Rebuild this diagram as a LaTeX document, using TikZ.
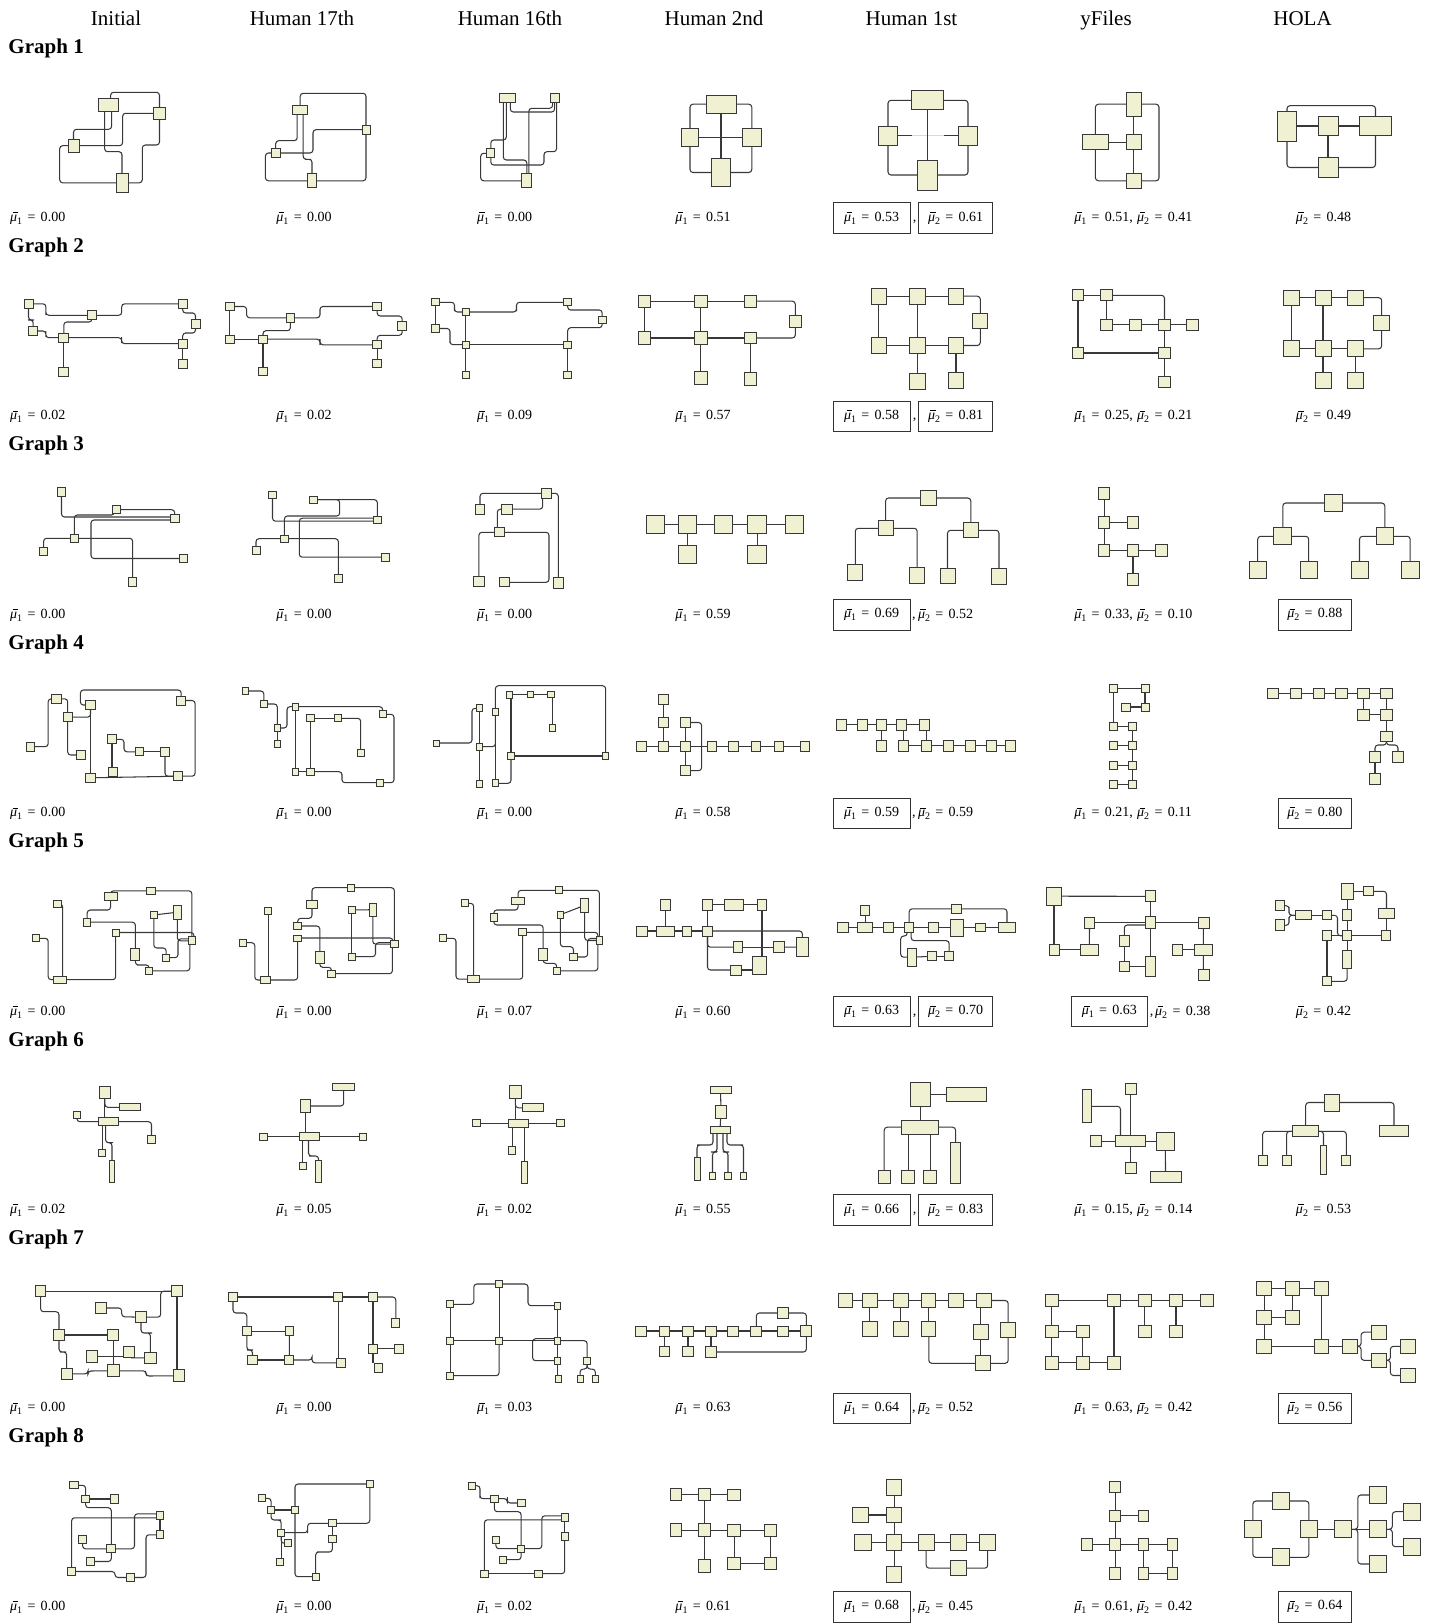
\documentclass[tikz,border=0pt]{standalone}
\usepackage{fontspec}
\setmainfont{Liberation Serif}
\definecolor{nfill}{RGB}{240,240,210}
\pgfdeclarelayer{back}
\pgfdeclarelayer{bg}
\pgfsetlayers{back,bg,main}
\tikzset{
 nd/.style={draw=black!78,fill=nfill,line width=0.95pt,inner sep=0pt,outer sep=0pt,rectangle},
 e/.style={draw=black!78,line width=1.05pt,rounded corners=3pt},
 hd/.style={font=\fontsize{21}{25}\selectfont,anchor=base,inner sep=0pt},
 gl/.style={font=\fontsize{21}{25}\selectfont\bfseries,anchor=base west,inner sep=0pt},
 sc/.style={font=\fontsize{14}{17}\selectfont,inner sep=0pt},
 bx/.style={draw=black!80,line width=0.9pt,minimum height=30.5pt,inner sep=0pt,font=\fontsize{14}{17}\selectfont},
}
\newcommand\gn[5]{\node[nd,minimum width=#4pt,minimum height=#5pt] (#1) at (#2,#3) {};}
\newcommand\subn[1]{\raisebox{-0.45ex}{\fontsize{10}{10}\selectfont #1}}
\newcommand\mub{\rlap{\hspace{0.17em}\rule[0.6em]{0.4em}{0.05em}}\textit{μ}}
\newcommand\eqs{\hspace{0.38em}=\hspace{0.38em}}
\newcommand\mA[1]{\mub\subn{1}\eqs#1}
\newcommand\mB[1]{\mub\subn{2}\eqs#1}
\begin{document}
\begin{tikzpicture}[x=1pt,y=-1pt]
\begin{pgfonlayer}{back}
\fill[white] (0,0) rectangle (1435,1624);
\end{pgfonlayer}
\useasboundingbox (0,0) rectangle (1435,1624);
% headers
\node[hd] (h1) at (116,25.7) {Initial};
\node[hd] (h2) at (302,25.7) {Human 17th};
\node[hd] (h3) at (510,25.7) {Human 16th};
\node[hd] (h4) at (714,25.7) {Human 2nd};
\node[hd] (h5) at (911.5,25.7) {Human 1st};
\node[hd] (h6) at (1106,25.7) {yFiles};
\node[hd] (h7) at (1302.5,25.7) {HOLA};
\node[gl] (gl1) at (8.3,54) {Graph 1};
\node[gl] (gl2) at (8.3,252.4) {Graph 2};
\node[gl] (gl3) at (8.3,450.8) {Graph 3};
\node[gl] (gl4) at (8.3,649.2) {Graph 4};
\node[gl] (gl5) at (8.3,847.6) {Graph 5};
\node[gl] (gl6) at (8.3,1046) {Graph 6};
\node[gl] (gl7) at (8.3,1244.4) {Graph 7};
\node[gl] (gl8) at (8.3,1442.8) {Graph 8};

% ================= ROW 1
\gn{a1a}{108.6}{105.3}{20}{13}
\gn{a1b}{159.5}{113.3}{11.5}{12}
\gn{a1c}{73.5}{145.7}{11}{12.7}
\gn{a1d}{122}{182.8}{12}{19}
\begin{pgfonlayer}{bg}
\draw[e] ([xshift=2]a1a.north) |- (135,92.3) -| (a1b);
\draw[e] ([xshift=-4]a1a.south) |- (115,151.7) -| (a1d);
\draw[e] ([xshift=3]a1a.south) |- (90,129.3) -| (a1c);
\draw[e] (a1b) -| (122.6,130) |- (a1c);
\draw[e] (a1b) |- (142.3,145) |- (a1d);
\draw[e] (a1c) -| (59.7,160) |- (a1d);
\end{pgfonlayer}

\gn{b1a}{300.2}{109.5}{15.5}{9}
\gn{b1b}{366}{129.7}{8}{9}
\gn{b1c}{275.7}{153}{9}{9.4}
\gn{b1d}{312}{180.8}{9}{13.7}
\begin{pgfonlayer}{bg}
\draw[e] (b1a) |- (340,93.3) -| (b1b);
\draw[e] ([xshift=-3]b1a.south) |- (285,140.7) -| (b1c);
\draw[e] ([xshift=3]b1a.south) |- (308,159.3) -| (b1d);
\draw[e] (b1b) -| (313,140) |- (b1c);
\draw[e] (b1b) |- (b1d);
\draw[e] (b1c) -| (265.4,170) |- (b1d);
\end{pgfonlayer}

\gn{c1a}{507.3}{97.8}{15.5}{9}
\gn{c1b}{554.6}{97.8}{9}{9}
\gn{c1c}{490.8}{153.3}{8.3}{8.7}
\gn{c1d}{526.8}{180.8}{9.7}{13.7}
\begin{pgfonlayer}{bg}
\draw[e] ([xshift=3]c1a.south) |- (530,112) -| (c1b);
\draw[e] ([xshift=-1]c1a.south) |- (500,140) -| (c1c);
\draw[e] ([xshift=-4]c1a.south) |- (515,160) -| (c1d);
\draw[e] ([xshift=2]c1b.south) |- (544,151.7) |- (500,165) -| (c1c);
\draw[e] ([xshift=-2]c1b.south) |- (535,108.3) -| ([xshift=2]c1d.north);
\draw[e] (c1c) -| (480.7,170) |- (c1d);
\end{pgfonlayer}

\gn{d1a}{721}{104.2}{30}{18.3}
\gn{d1b}{690}{137.5}{17.5}{18.4}
\gn{d1c}{751.8}{137.5}{18.5}{17.7}
\gn{d1d}{721}{172.5}{18.5}{28.4}
\begin{pgfonlayer}{bg}
\draw[e] (d1a) -| (d1b);
\draw[e] (d1a) -| (d1c);
\draw[e] (d1b) |- (d1d);
\draw[e] (d1c) |- (d1d);
\draw[e] (d1b) -- (d1c);
\draw[e] (d1a) -- (d1d);
\end{pgfonlayer}

\gn{e1a}{927.6}{100.3}{32}{19.3}
\gn{e1b}{888}{135.7}{19}{19.3}
\gn{e1c}{968}{135.7}{19.7}{19.3}
\gn{e1d}{927.8}{175}{19.7}{30}
\begin{pgfonlayer}{bg}
\draw[e] (e1a) -| (e1b);
\draw[e] (e1a) -| (e1c);
\draw[e] (e1b) |- (e1d);
\draw[e] (e1c) |- (e1d);
\draw[e] (e1b) -- (e1c);
\draw[black!15,line width=1.1pt] (e1b.east -| e1a.west) -- (e1c.west -| e1a.east);
\draw[e] (e1a.south -| e1d.north) -- (e1d);
\end{pgfonlayer}

\gn{f1a}{1133.8}{104.2}{15.5}{23.7}
\gn{f1b}{1095.4}{142.3}{26}{15.3}
\gn{f1c}{1133.8}{142.3}{15.5}{15.3}
\gn{f1d}{1133.8}{180.8}{15.5}{15}
\begin{pgfonlayer}{bg}
\draw[e] (f1a) -- (f1c);
\draw[e] (f1c) -- (f1d);
\draw[e] (f1b) -- (f1c);
\draw[e] (f1a) -| (f1b);
\draw[e] (f1b) |- (f1d);
\draw[e] (f1a) -| (1159,150) |- (f1d);
\end{pgfonlayer}

\gn{g1a}{1287}{126}{19.3}{30}
\gn{g1b}{1328}{126}{20}{19.3}
\gn{g1c}{1375.5}{126}{31.7}{19.3}
\gn{g1d}{1328}{167.5}{20}{19.6}
\begin{pgfonlayer}{bg}
\draw[e] (g1a) -- (g1b);
\draw[e] (g1b) -- (g1c);
\draw[e] (g1b) -- (g1d);
\draw[e] (g1a) |- (1330,105.7) -| (g1c);
\draw[e] (g1a) |- (g1d);
\draw[e] (g1d) -| (g1c);
\end{pgfonlayer}

% ================= ROW 2
\gn{a2a}{28.5}{303.8}{9}{9}
\gn{a2b}{33.2}{331}{9}{9}
\gn{a2c}{92}{315.3}{9.5}{8.7}
\gn{a2d}{63.8}{337.7}{10}{8.7}
\gn{a2e}{182.7}{303.8}{9}{9}
\gn{a2f}{195.5}{323.8}{9}{9}
\gn{a2g}{182.7}{343.7}{9}{8.7}
\gn{a2h}{182.7}{363.7}{9}{8.7}
\gn{a2i}{63.8}{371.8}{10}{9}
\begin{pgfonlayer}{bg}
\draw[e] (a2a) -| (45.9,312) |- (a2c);
\draw[e] (a2a) |- (31,320) -| (a2b);
\draw[e] (a2b) -| (45.9,334) |- (a2d);
\draw[e] (a2c) -| (121.7,310) |- (a2e);
\draw[e] (a2c) |- (75,322) -| (a2d);
\draw[e] (a2e) |- (190,313) -| (a2f);
\draw[e] (a2d) -| (121.7,340) |- (a2g);
\draw[e] (a2f) |- (188,333) -| (a2g);
\draw[e] (a2g) -- (a2h);
\draw[e] (a2d) -- (a2i);
\end{pgfonlayer}

\gn{b2a}{229.8}{306.5}{8.8}{8.4}
\gn{b2b}{229.8}{339.2}{8.8}{8.4}
\gn{b2c}{290.4}{317.8}{8.8}{8.7}
\gn{b2d}{263}{339.2}{9.2}{8.4}
\gn{b2e}{377.2}{306.5}{8.7}{8.4}
\gn{b2f}{402.2}{325.8}{9.2}{8.4}
\gn{b2g}{377.2}{344.8}{8.7}{8}
\gn{b2h}{377.2}{363.3}{8.7}{8}
\gn{b2i}{263}{371.5}{9.2}{8.4}
\begin{pgfonlayer}{bg}
\draw[e] (b2a) -- (b2b);
\draw[e] (b2a) -| (246.6,312) |- (b2c);
\draw[e] (b2c) -| (320,312) |- (b2e);
\draw[e] (b2c) |- (270,330.7) -| (b2d);
\draw[e] (b2b) -- (b2d);
\draw[e] (b2d) -| (320,342) |- (b2g);
\draw[e] (b2e) |- (390,316) -| (b2f);
\draw[e] (b2f) |- (385,335.3) -| (b2g);
\draw[e] (b2g) -- (b2h);
\draw[e] (b2d) -- (b2i);
\end{pgfonlayer}

\gn{c2a}{435.5}{302.3}{7.8}{7.3}
\gn{c2b}{435.5}{328.5}{7.8}{7.3}
\gn{c2c}{465.9}{312}{7.7}{7.3}
\gn{c2d}{465.9}{344.7}{7.7}{7.3}
\gn{c2e}{567.7}{302.3}{7.8}{7.3}
\gn{c2f}{602.2}{319.7}{7.7}{7.3}
\gn{c2g}{567.7}{344.7}{7.8}{7.3}
\gn{c2h}{567.7}{374.7}{7.8}{7.3}
\gn{c2i}{465.9}{374.7}{7.7}{7.3}
\begin{pgfonlayer}{bg}
\draw[e] (c2a) -- (c2b);
\draw[e] (c2a) -| (454.5,308) |- (c2c);
\draw[e] (c2b) -| (450,340) |- (c2d);
\draw[e] (c2c) -- (c2d);
\draw[e] (c2c) -| (516.5,308) |- (c2e);
\draw[e] (c2d) -- (c2g);
\draw[e] (c2e) |- (590,310) -| (c2f);
\draw[e] (c2f) |- (580,327.7) -| (c2g);
\draw[e] (c2g) -- (c2h);
\draw[e] (c2d) -- (c2i);
\end{pgfonlayer}

\gn{d2a}{644.4}{301.2}{12.4}{12.3}
\gn{d2b}{644.4}{338}{12.4}{12.3}
\gn{d2c}{700.6}{301.2}{12.8}{12.3}
\gn{d2d}{700.6}{338}{12.8}{12.3}
\gn{d2e}{700.6}{378}{12.8}{12.3}
\gn{d2f}{750.2}{301.2}{12.3}{11.7}
\gn{d2g}{795.3}{321.2}{12}{12.3}
\gn{d2h}{750.2}{338}{12.3}{11.7}
\gn{d2i}{750.2}{378.7}{12.3}{12.7}
\begin{pgfonlayer}{bg}
\draw[e] (d2a) -- (d2c);
\draw[e] (d2c) -- (d2f);
\draw[e] (d2f) -| (d2g);
\draw[e] (d2g) |- (d2h);
\draw[e] (d2b) -- (d2d);
\draw[e] (d2d) -- (d2h);
\draw[e] (d2a) -- (d2b);
\draw[e] (d2c) -- (d2d);
\draw[e] (d2d) -- (d2e);
\draw[e] (d2h) -- (d2i);
\end{pgfonlayer}

\gn{e2a}{878.9}{296.2}{15.7}{15.7}
\gn{e2b}{917.5}{296.2}{15.7}{15.7}
\gn{e2c}{956}{296.2}{15.7}{15.7}
\gn{e2d}{980.3}{320.8}{14.7}{15}
\gn{e2e}{878.9}{345.5}{15.7}{15.7}
\gn{e2f}{917.5}{345.5}{15.7}{15.7}
\gn{e2g}{956}{345.5}{15.7}{15.7}
\gn{e2h}{917.5}{381.2}{15.7}{15.7}
\gn{e2i}{956}{380.2}{15.7}{15.7}
\begin{pgfonlayer}{bg}
\draw[e] (e2a) -- (e2b);
\draw[e] (e2b) -- (e2c);
\draw[e] (e2c) -| (e2d);
\draw[e] (e2d) |- (e2g);
\draw[e] (e2e) -- (e2f);
\draw[e] (e2f) -- (e2g);
\draw[e] (e2a) -- (e2e);
\draw[e] (e2b) -- (e2f);
\draw[e] (e2f) -- (e2h);
\draw[e] (e2g) -- (e2i);
\end{pgfonlayer}

\gn{f2a}{1078}{295.3}{11.5}{10.7}
\gn{f2b}{1106.7}{295.3}{11.5}{10.7}
\gn{f2c}{1106.7}{324.7}{11.5}{10.7}
\gn{f2d}{1135.3}{324.7}{11.5}{10.7}
\gn{f2e}{1164.5}{324.7}{11.5}{10.7}
\gn{f2f}{1192.7}{324.7}{11.5}{10.7}
\gn{f2g}{1078}{353}{11.5}{11.3}
\gn{f2h}{1164.5}{353}{11.5}{11.3}
\gn{f2i}{1164.5}{381.7}{11.5}{11.3}
\begin{pgfonlayer}{bg}
\draw[e] (f2a) -- (f2b);
\draw[e] (f2b) -| (f2e);
\draw[e] (f2b) -- (f2c);
\draw[e] (f2c) -- (f2d);
\draw[e] (f2d) -- (f2e);
\draw[e] (f2e) -- (f2f);
\draw[e] (f2a) -- (f2g);
\draw[e] (f2g) -- (f2h);
\draw[e] (f2e) -- (f2h);
\draw[e] (f2h) -- (f2i);
\end{pgfonlayer}

\gn{g2a}{1291.5}{297.7}{16}{15.3}
\gn{g2b}{1323}{297.7}{16}{15.3}
\gn{g2c}{1355.3}{297.7}{16}{15.3}
\gn{g2d}{1381.7}{323.3}{15.7}{15.3}
\gn{g2e}{1291.5}{348.8}{16}{15.7}
\gn{g2f}{1323}{348.8}{16}{15.7}
\gn{g2g}{1355.3}{348.8}{16}{15.7}
\gn{g2h}{1323}{380.2}{16}{15.7}
\gn{g2i}{1355.3}{380.2}{16}{15.7}
\begin{pgfonlayer}{bg}
\draw[e] (g2a) -- (g2b);
\draw[e] (g2b) -- (g2c);
\draw[e] (g2c) -| (g2d);
\draw[e] (g2d) |- (g2g);
\draw[e] (g2e) -- (g2f);
\draw[e] (g2f) -- (g2g);
\draw[e] (g2a) -- (g2e);
\draw[e] (g2b) -- (g2f);
\draw[e] (g2f) -- (g2h);
\draw[e] (g2g) -- (g2i);
\end{pgfonlayer}

% ================= ROW 3
\gn{a3a}{61.5}{492}{8.3}{8.7}
\gn{a3b}{116.4}{509.7}{7.8}{8}
\gn{a3c}{174.7}{518.5}{8.7}{8.4}
\gn{a3d}{74.4}{538.3}{8.3}{8}
\gn{a3e}{43.6}{551.3}{8.2}{8}
\gn{a3f}{183.2}{558.5}{8.3}{8.4}
\gn{a3g}{132.7}{582.2}{8.2}{9}
\begin{pgfonlayer}{bg}
\draw[e] (a3a) |- ([yshift=1.5]a3c.west);
\draw[e] (a3b) -| (a3c);
\draw[e] ([xshift=-2]a3b.south) |- (90,515) -| (a3d);
\draw[e] ([yshift=-1.5]a3c.west) -| (91,540) |- (a3f);
\draw[e] (a3e) |- (a3d);
\draw[e] (a3d) -| (a3g);
\end{pgfonlayer}

\gn{b3a}{272.5}{495.3}{7.8}{7.3}
\gn{b3b}{313.6}{499.7}{8.3}{7.3}
\gn{b3c}{377.4}{519.7}{8.2}{7.3}
\gn{b3d}{284.4}{538.7}{7.8}{7.3}
\gn{b3e}{256}{550}{8}{8}
\gn{b3f}{385.2}{557.2}{8.3}{7.7}
\gn{b3g}{338.4}{578.8}{8.3}{7.7}
\begin{pgfonlayer}{bg}
\draw[e] (b3a) |- ([yshift=-1.5]b3c.west);
\draw[e] (b3b) -| (b3c);
\draw[e] (b3b) -| (339.7,516) -| (b3d);
\draw[e] (b3e) |- (b3d);
\draw[e] (b3d) -| (b3g);
\draw[e] ([yshift=1.5]b3c.west) -| (299.3,540) |- (b3f);
\end{pgfonlayer}

\gn{c3a}{546.2}{493.3}{10.4}{10}
\gn{c3b}{480}{509.2}{9.6}{10.3}
\gn{c3c}{506.9}{509.2}{10.2}{10.3}
\gn{c3d}{499.3}{532.3}{9.6}{9.3}
\gn{c3e}{478.9}{581.8}{10.2}{10.3}
\gn{c3f}{504.6}{582.3}{10.1}{9.3}
\gn{c3g}{558.3}{583}{10.2}{10.6}
\begin{pgfonlayer}{bg}
\draw[e] (c3a) -| (c3b);
\draw[e] (c3c) -| ([xshift=-3.5]c3a.south);
\draw[e] ([xshift=-2]c3d.north) |- (c3c);
\draw[e] (c3d) -| (c3e);
\draw[e] (c3d) -| (549,560) |- (c3f);
\draw[e] (c3a) -| (c3g);
\end{pgfonlayer}

\gn{d3a}{655.5}{524.2}{18}{18.3}
\gn{d3b}{687.3}{524.2}{18.5}{18.3}
\gn{d3c}{723.5}{524.2}{18.5}{18.3}
\gn{d3d}{757.2}{524.2}{18.5}{18.3}
\gn{d3e}{794.4}{524.2}{18.4}{18.3}
\gn{d3f}{687.3}{554.2}{18.5}{18.3}
\gn{d3g}{757.2}{554.2}{18.5}{18.3}
\begin{pgfonlayer}{bg}
\draw[e] (d3a) -- (d3b);
\draw[e] (d3b) -- (d3c);
\draw[e] (d3c) -- (d3d);
\draw[e] (d3d) -- (d3e);
\draw[e] (d3b) -- (d3f);
\draw[e] (d3d) -- (d3g);
\end{pgfonlayer}

\gn{e3a}{928.2}{498}{16}{15.3}
\gn{e3b}{885.6}{528.3}{15.1}{15.3}
\gn{e3c}{970.8}{530.3}{15.5}{15.3}
\gn{e3d}{855.3}{572.8}{15.1}{15.7}
\gn{e3e}{917.2}{575.5}{15.1}{15.6}
\gn{e3f}{947.5}{576}{15}{15.4}
\gn{e3g}{999}{576.8}{15.1}{15.7}
\begin{pgfonlayer}{bg}
\draw[e] (e3a) -| (e3b);
\draw[e] (e3a) -| (e3c);
\draw[e] (e3d) |- (e3b);
\draw[e] (e3b) -| (e3e);
\draw[e] (e3f) |- (e3c);
\draw[e] (e3c) -| (e3g);
\end{pgfonlayer}

\gn{f3a}{1104.2}{493.3}{11.5}{12}
\gn{f3b}{1104.2}{522.5}{11.5}{11.6}
\gn{f3c}{1133}{522.5}{11.5}{11.6}
\gn{f3d}{1104.2}{550.8}{11.5}{11.7}
\gn{f3e}{1133}{550.8}{11.5}{11.7}
\gn{f3f}{1161.7}{550.8}{12}{11.7}
\gn{f3g}{1133}{579.7}{11.5}{12}
\begin{pgfonlayer}{bg}
\draw[e] (f3a) -- (f3b);
\draw[e] (f3b) -- (f3c);
\draw[e] (f3b) -- (f3d);
\draw[e] (f3d) -- (f3e);
\draw[e] (f3e) -- (f3f);
\draw[e] (f3e) -- (f3g);
\end{pgfonlayer}

\gn{g3a}{1333.6}{503}{18}{17.3}
\gn{g3b}{1282.8}{536.3}{18}{17.3}
\gn{g3c}{1384.8}{536.3}{17.6}{17.3}
\gn{g3d}{1257.7}{570.3}{17.4}{17.3}
\gn{g3e}{1308.7}{570.3}{17.4}{17.3}
\gn{g3f}{1359.5}{570.3}{17}{17.3}
\gn{g3g}{1410.2}{570.3}{17.6}{17.3}
\begin{pgfonlayer}{bg}
\draw[e] (g3a) -| (g3b);
\draw[e] (g3a) -| (g3c);
\draw[e] (g3d) |- (g3b);
\draw[e] (g3b) -| (g3e);
\draw[e] (g3f) |- (g3c);
\draw[e] (g3c) -| (g3g);
\end{pgfonlayer}

% ================= ROW 4
\gn{a4a}{30.8}{746.7}{8.3}{8.7}
\gn{a4b}{56.5}{698.8}{9.1}{9}
\gn{a4c}{67.7}{717.2}{8.6}{9}
\gn{a4d}{90.5}{705}{9.1}{8.6}
\gn{a4e}{181.2}{700.5}{8.7}{9}
\gn{a4f}{80.6}{755}{8.8}{8.6}
\gn{a4g}{112}{739.3}{8.3}{8.7}
\gn{a4h}{139.4}{751.8}{8.7}{8.3}
\gn{a4i}{165}{751.8}{8.7}{8.7}
\gn{a4j}{113.2}{771.7}{8.7}{8.7}
\gn{a4k}{90.5}{777.8}{9.1}{9}
\gn{a4l}{177.9}{776.2}{8.7}{9}
\begin{pgfonlayer}{bg}
\draw[e] (a4a) -| (48.2,720) |- (a4b);
\draw[e] (a4b) -| (a4c);
\draw[e] (a4c) -| (a4d);
\draw[e] (a4c) |- (a4f);
\draw[e] (a4d) -| (80.4,690) -| (a4e);
\draw[e] (a4e) -| (195.1,740) |- (a4l);
\draw[e] (a4d) -- (a4k);
\draw[e] (a4k) -- (a4l);
\draw[e] (a4g) -| (124,745) |- (a4h);
\draw[e] (a4h) -- (a4i);
\draw[e] (a4g.south) -- (a4g.south |- a4j.north);
\draw[e] (a4i) |- (a4l);
\end{pgfonlayer}

\gn{b4a}{245.2}{691}{6.4}{6.6}
\gn{b4b}{263.8}{704}{6.9}{6.6}
\gn{b4c}{277.3}{728}{6.4}{7.4}
\gn{b4d}{277.3}{744.3}{6.4}{6.7}
\gn{b4e}{295.2}{706.7}{6.4}{6.7}
\gn{b4f}{310.4}{718.3}{7.3}{6.7}
\gn{b4g}{338.2}{718.3}{6.9}{6.7}
\gn{b4h}{382.7}{714.3}{6.9}{6.7}
\gn{b4i}{360.7}{753.3}{6.9}{6.7}
\gn{b4j}{295.2}{771.7}{6.4}{6.7}
\gn{b4k}{310.4}{771.7}{7.3}{6.6}
\gn{b4l}{379.8}{782.7}{6.5}{6.7}
\begin{pgfonlayer}{bg}
\draw[e] (b4a) -| (b4b);
\draw[e] (b4b) -| (b4c);
\draw[e] (b4c) -- (b4d);
\draw[e] (b4c) -| (287,715) |- (b4e);
\draw[e] (b4e) -| (b4h);
\draw[e] (b4f) -- (b4g);
\draw[e] (b4g) -| (b4i);
\draw[e] (b4f) -- (b4k);
\draw[e] (b4e) -- (b4j);
\draw[e] (b4j) -- (b4k);
\draw[e] (b4k) -| (342,777) |- (b4l);
\draw[e] (b4h) -| (394,760) |- (b4l);
\end{pgfonlayer}

\gn{c4a}{436.9}{743}{6}{6}
\gn{c4b}{479.1}{708.3}{6}{6.7}
\gn{c4c}{479.1}{746.7}{6}{6.7}
\gn{c4d}{479.1}{784.3}{6}{6.7}
\gn{c4e}{495.4}{712.3}{6.4}{6.7}
\gn{c4f}{495.4}{783.3}{6.4}{6.7}
\gn{c4g}{509.6}{694.7}{6.4}{6.6}
\gn{c4h}{530.3}{694.7}{6.5}{6}
\gn{c4i}{551.2}{694.7}{6.9}{6}
\gn{c4j}{552.6}{727.7}{6}{6.7}
\gn{c4k}{511}{756}{6.4}{6.6}
\gn{c4l}{605.6}{756}{6.4}{6.7}
\begin{pgfonlayer}{bg}
\draw[e] (c4a) -| (472,720) |- (c4b);
\draw[e] (c4b) -- (c4c);
\draw[e] (c4c) -- (c4d);
\draw[e] (c4c) -| (c4e);
\draw[e] (c4e) -- (c4f);
\draw[e] (c4e) |- (550,685.7) -| (c4l);
\draw[e] (c4g) -- (c4h);
\draw[e] (c4h) -- (c4i);
\draw[e] (c4i.south -| c4j.north) -- (c4j);
\draw[e] (c4g.south -| c4k.north) -- (c4k);
\draw[e] (c4k) -- (c4l);
\draw[e] (c4f) -| (c4k);
\end{pgfonlayer}

\gn{d4a}{663.2}{699.2}{9.6}{9.7}
\gn{d4b}{663.2}{722.5}{9.6}{9.7}
\gn{d4c}{685.2}{722.5}{9.6}{9.7}
\gn{d4d}{641.7}{746.5}{9.6}{10}
\gn{d4e}{663.2}{746.5}{9.6}{10}
\gn{d4f}{685.2}{746.5}{9.6}{10}
\gn{d4g}{685.2}{770.7}{9.6}{10}
\gn{d4h}{711.6}{746.5}{9.2}{10}
\gn{d4i}{733.4}{746.5}{9.2}{10}
\gn{d4j}{756.3}{746.5}{9.2}{10}
\gn{d4k}{779.3}{746.5}{9.2}{10}
\gn{d4l}{804.5}{746.5}{9}{10}
\begin{pgfonlayer}{bg}
\draw[e] (d4a) -- (d4b);
\draw[e] (d4b) -- (d4e);
\draw[e] (d4d) -- (d4e);
\draw[e] (d4e) -- (d4f);
\draw[e] (d4c) -- (d4f);
\draw[e] (d4f) -- (d4g);
\draw[e] (d4c) -| (701.6,735) |- (d4g);
\draw[e] (d4f) -- (d4h);
\draw[e] (d4h) -- (d4i);
\draw[e] (d4i) -- (d4j);
\draw[e] (d4j) -- (d4k);
\draw[e] (d4k) -- (d4l);
\end{pgfonlayer}

\gn{e4a}{841.7}{724.7}{10}{11.3}
\gn{e4b}{862}{724.7}{10}{11.3}
\gn{e4c}{881.9}{724.7}{10}{11.3}
\gn{e4d}{901.6}{724.7}{10}{11.3}
\gn{e4e}{924.6}{724.7}{10}{11.3}
\gn{e4f}{881.9}{745.5}{10}{11}
\gn{e4g}{903.6}{745.5}{10}{11}
\gn{e4h}{926.9}{745.5}{10}{11}
\gn{e4i}{948.5}{745.5}{10}{11}
\gn{e4j}{970}{745.5}{10}{11}
\gn{e4k}{991}{745.5}{10}{11}
\gn{e4l}{1010.7}{745.5}{10}{11}
\begin{pgfonlayer}{bg}
\draw[e] (e4a) -- (e4b);
\draw[e] (e4b) -- (e4c);
\draw[e] (e4c) -- (e4d);
\draw[e] (e4d) -- (e4e);
\draw[e] (e4c) -- (e4f);
\draw[e] (e4d.south -| e4g.north) -- (e4g);
\draw[e] (e4e.south -| e4h.north) -- (e4h);
\draw[e] (e4g) -- (e4h);
\draw[e] (e4h) -- (e4i);
\draw[e] (e4i) -- (e4j);
\draw[e] (e4j) -- (e4k);
\draw[e] (e4k) -- (e4l);
\end{pgfonlayer}

\gn{f4a}{1113.3}{688.3}{8.6}{8}
\gn{f4b}{1145}{688.3}{8}{8}
\gn{f4c}{1125.9}{707}{8.2}{8}
\gn{f4d}{1145}{707}{8}{8}
\gn{f4e}{1113.3}{726.8}{8.6}{8.3}
\gn{f4f}{1132.1}{726.8}{7.8}{8.3}
\gn{f4g}{1113.3}{745.8}{8.6}{8.3}
\gn{f4h}{1132.1}{745.8}{7.8}{8.3}
\gn{f4i}{1113.3}{765.2}{8.6}{8.3}
\gn{f4j}{1132.1}{765.2}{7.8}{8.3}
\gn{f4k}{1113.3}{784.2}{8.6}{8.3}
\gn{f4l}{1132.1}{784.2}{7.8}{8.3}
\begin{pgfonlayer}{bg}
\draw[e] (f4a) -- (f4b);
\draw[e] (f4b) -- (f4d);
\draw[e] (f4c) -- (f4d);
\draw[e] (f4a) -- (f4e);
\draw[e] (f4e) -- (f4f);
\draw[e] (f4g) -- (f4h);
\draw[e] (f4i) -- (f4j);
\draw[e] (f4k) -- (f4l);
\draw[e] (f4f) -- (f4h);
\draw[e] (f4h) -- (f4j);
\draw[e] (f4j) -- (f4l);
\end{pgfonlayer}

\gn{g4a}{1273}{693.3}{11.5}{10}
\gn{g4b}{1295.8}{693.3}{11.5}{10}
\gn{g4c}{1318.8}{693.3}{11.5}{10}
\gn{g4d}{1341.3}{693.3}{11.5}{10}
\gn{g4e}{1363.5}{693.3}{11.5}{10}
\gn{g4f}{1386.5}{693.3}{11.5}{10}
\gn{g4g}{1363.5}{714.5}{11.5}{11}
\gn{g4h}{1386.5}{714.5}{11.5}{11}
\gn{g4i}{1386.5}{736}{11.5}{10}
\gn{g4j}{1375}{757}{11.5}{10.6}
\gn{g4k}{1398}{757}{11.5}{10.6}
\gn{g4l}{1375}{778.7}{11.5}{10.7}
\begin{pgfonlayer}{bg}
\draw[e] (g4a) -- (g4b);
\draw[e] (g4b) -- (g4c);
\draw[e] (g4c) -- (g4d);
\draw[e] (g4d) -- (g4e);
\draw[e] (g4e) -- (g4f);
\draw[e] (g4e) -- (g4g);
\draw[e] (g4f) -- (g4h);
\draw[e] (g4g) -- (g4h);
\draw[e] (g4h) -- (g4i);
\draw[e] (g4i.south) -- ++(0,4) -| (g4j);
\draw[e] (g4i.south) -- ++(0,4) -| (g4k);
\draw[e] (g4j) -- (g4l);
\end{pgfonlayer}

% ================= ROW 5
\gn{a5a}{57.4}{904}{7.3}{6.6}
\gn{a5b}{35.8}{938.3}{7.4}{6.7}
\gn{a5c}{110.6}{896.7}{12.8}{8}
\gn{a5d}{151}{890.8}{8.2}{7}
\gn{a5e}{87.2}{922.2}{7.3}{7.7}
\gn{a5f}{115.7}{932.5}{7.4}{7}
\gn{a5g}{153.8}{915}{7.4}{6.6}
\gn{a5h}{177.3}{912.2}{7.4}{14.3}
\gn{a5i}{191.9}{940.8}{7.4}{8.3}
\gn{a5j}{135.4}{954.2}{9}{11.7}
\gn{a5k}{166.2}{957.7}{7.4}{6.7}
\gn{a5l}{149.2}{970.8}{7.4}{7}
\gn{a5m}{60.2}{979.7}{12.9}{7.3}
\begin{pgfonlayer}{bg}
\draw[e] (a5a) -| ([xshift=2.5]a5m.north);
\draw[e] (a5b) -| (48.2,960) |- (a5m);
\draw[e] (a5m) -| (a5f);
\draw[e] (a5c) |- (100,910) -| (a5e);
\draw[e] (a5c) |- (a5d);
\draw[e] (a5d) -| (a5i);
\draw[e] (a5e) -| (a5j);
\draw[e] (a5f) -| ([xshift=2]a5i.north);
\draw[e] (a5g) -- (a5h);
\draw[e] (a5g) |- (160,948) -| (a5k);
\draw[e] (a5h) |- (a5i);
\draw[e] (a5k) -| (178,950) |- ([yshift=2]a5i.west);
\draw[e] (a5j) |- (140,965) -| (a5l);
\draw[e] (a5l) -| ([xshift=-2]a5i.south);
\end{pgfonlayer}

\gn{b5a}{268.1}{911}{6.4}{6.6}
\gn{b5b}{243.3}{942.7}{7.3}{6.7}
\gn{b5c}{312}{904.5}{11.5}{7.6}
\gn{b5d}{350.8}{887.7}{7.3}{6.7}
\gn{b5e}{297.7}{926}{7.8}{6.6}
\gn{b5f}{297.7}{938}{7.8}{6}
\gn{b5g}{351.5}{910}{7}{6.6}
\gn{b5h}{372.8}{909.7}{7.4}{12.7}
\gn{b5i}{394.4}{944.2}{7.3}{7}
\gn{b5j}{319.8}{957.5}{9.6}{11.6}
\gn{b5k}{351.5}{956.7}{7}{6.7}
\gn{b5l}{331.5}{973.7}{7.4}{7.3}
\gn{b5m}{265.6}{980}{10.6}{6.6}
\begin{pgfonlayer}{bg}
\draw[e] (b5a) -- (b5a |- b5m.north);
\draw[e] (b5b) -| (254.8,960) |- (b5m);
\draw[e] (b5m) -| (b5f);
\draw[e] (b5c) |- (305,918.3) -| (b5e);
\draw[e] (b5c) |- (b5d);
\draw[e] (b5d) -| (b5i);
\draw[e] (b5e) -| (b5j);
\draw[e] (b5f) -| ([xshift=-1.5]b5i.north);
\draw[e] (b5g) -- (b5h);
\draw[e] (b5g) -- (b5k);
\draw[e] (b5h) |- (b5i);
\draw[e] (b5k) -| (375.5,950) |- ([yshift=1.5]b5i.west);
\draw[e] (b5j) |- (325,967.3) -| (b5l);
\draw[e] (b5l) -| ([xshift=-2]b5i.south);
\end{pgfonlayer}

\gn{c5a}{465.1}{903.3}{7.4}{6.7}
\gn{c5b}{443}{938.3}{7.3}{6.7}
\gn{c5c}{518.1}{900.8}{12.3}{7}
\gn{c5d}{559}{890.3}{6.9}{7.3}
\gn{c5e}{493.8}{917.2}{6.8}{7.7}
\gn{c5f}{522.7}{932.3}{7.8}{6.7}
\gn{c5g}{560.4}{914.7}{6.8}{7.3}
\gn{c5h}{584.7}{905.3}{7.8}{14}
\gn{c5i}{599.4}{940.5}{6.8}{7.6}
\gn{c5j}{543.2}{954.2}{9.1}{11.7}
\gn{c5k}{573.5}{957}{7.3}{7.4}
\gn{c5l}{556.7}{970.8}{6.8}{7}
\gn{c5m}{473.6}{979.2}{12.4}{7}
\begin{pgfonlayer}{bg}
\draw[e] (c5a) -| (c5m);
\draw[e] (c5b) -| (456,960) |- (c5m);
\draw[e] (c5m) -| (c5f);
\draw[e] (c5c) |- (505,910) -| (c5e);
\draw[e] (c5c) |- (c5d);
\draw[e] (c5d) -| (c5i);
\draw[e] (c5e) |- (530,925) -| (c5j);
\draw[e] (c5f) -| ([xshift=-1.5]c5i.north);
\draw[e] (c5g) -- (c5h);
\draw[e] (c5g) |- (565,946.7) -| (c5k);
\draw[e] (c5h) |- (c5i);
\draw[e] (c5j) |- (550,963.3) -| (c5l);
\draw[e] (c5k) -| (587.7,948) |- ([yshift=2]c5i.west);
\draw[e] (c5l) -| ([xshift=-1.5]c5i.south);
\end{pgfonlayer}

\gn{d5a}{642.1}{931}{10.6}{10}
\gn{d5b}{665.3}{931}{17.4}{10}
\gn{d5c}{686.8}{931}{9.2}{10}
\gn{d5d}{707.5}{931}{10.2}{10}
\gn{d5e}{665.5}{904.5}{10.6}{11}
\gn{d5f}{707.5}{904.5}{10.2}{11}
\gn{d5g}{733.8}{904.5}{19.3}{11}
\gn{d5h}{762}{904.5}{9.7}{11}
\gn{d5i}{738}{947.2}{9.2}{11}
\gn{d5j}{779.3}{947.2}{11}{11}
\gn{d5k}{802.4}{947}{11.5}{19.4}
\gn{d5l}{736}{970}{10.2}{10}
\gn{d5m}{759.8}{965}{14.3}{18}
\begin{pgfonlayer}{bg}
\draw[e] (d5a) -- (d5b);
\draw[e] (d5b) -- (d5c);
\draw[e] (d5c) -- (d5d);
\draw[e] (d5b.north -| d5e.south) -- (d5e);
\draw[e] (d5d) -- (d5f);
\draw[e] (d5f) -- (d5g);
\draw[e] (d5g) -- (d5h);
\draw[e] (d5h) -- (d5h |- d5m.north);
\draw[e] (d5d) -| (d5k);
\draw[e] (d5d) |- (d5i);
\draw[e] (d5i) -- (d5j);
\draw[e] (d5j) -- (d5k);
\draw[e] (d5d) |- (d5l);
\draw[e] (d5l) -- (d5l -| d5m.west);
\end{pgfonlayer}

\gn{e5a}{842.9}{927.7}{10.5}{10}
\gn{e5b}{864.7}{927.7}{14.7}{10}
\gn{e5c}{865.1}{910}{9.2}{10}
\gn{e5d}{888.3}{927.7}{9.6}{10}
\gn{e5e}{909.2}{927.7}{9.2}{10}
\gn{e5f}{933.6}{927.7}{10.1}{10}
\gn{e5g}{956.8}{927.7}{12.5}{16.6}
\gn{e5h}{980.9}{927.7}{10.1}{8.3}
\gn{e5i}{1007}{927.7}{17.4}{10}
\gn{e5j}{956.6}{908.8}{10.1}{9}
\gn{e5k}{911.5}{957.2}{9}{17.7}
\gn{e5l}{932.2}{956.3}{9.2}{9.3}
\gn{e5m}{949.2}{956.3}{9.2}{9.3}
\begin{pgfonlayer}{bg}
\draw[e] (e5a) -- (e5b);
\draw[e] (e5b) -- (e5d);
\draw[e] (e5d) -- (e5e);
\draw[e] (e5e) -- (e5f);
\draw[e] (e5f) -- (e5g);
\draw[e] (e5g) -- (e5h);
\draw[e] (e5h) -- (e5i);
\draw[e] (e5c.south) -- (e5c.south |- e5b.north);
\draw[e] (e5e) |- (e5j);
\draw[e] (e5j) -| (e5i);
\draw[e] ([xshift=-2]e5e.south) |- (900.7,936) |- (e5k);
\draw[e] (e5k) -- (e5l);
\draw[e] (e5l) -- (e5m);
\draw[e] ([xshift=2]e5e.south) |- (930,940.7) -| (e5m);
\end{pgfonlayer}

\gn{f5a}{1054}{896.2}{15.1}{17.7}
\gn{f5b}{1150.5}{896.3}{10.6}{10.7}
\gn{f5c}{1150.5}{922.5}{10.6}{11.6}
\gn{f5d}{1089.6}{922.5}{10.1}{11}
\gn{f5e}{1203.5}{922.5}{11}{11}
\gn{f5f}{1054.4}{949.5}{10.1}{11}
\gn{f5g}{1089.2}{949.5}{18.4}{11}
\gn{f5h}{1124.3}{940.5}{10.6}{11}
\gn{f5i}{1124.3}{966.5}{10.6}{10.7}
\gn{f5j}{1150.5}{966.5}{10.6}{20}
\gn{f5k}{1177}{949.5}{10}{11}
\gn{f5l}{1203.3}{949.5}{18.5}{11}
\gn{f5m}{1203.5}{975.3}{11}{10.7}
\begin{pgfonlayer}{bg}
\draw[e] (f5a) -- (f5b);
\draw[e] (f5b) -- (f5c);
\draw[e] (f5d) -- (f5c);
\draw[e] (f5c) -- (f5e);
\draw[e] (f5c) -- (f5j);
\draw[e] (f5a) -- (f5a |- f5f.north);
\draw[e] (f5f) -- (f5g);
\draw[e] (f5d) -- (f5g);
\draw[e] ([yshift=-2.5]f5c.west) -| (f5h);
\draw[e] (f5h) -- (f5i);
\draw[e] (f5i) -- (f5j);
\draw[e] (f5k) -- (f5l);
\draw[e] (f5e) -- (f5l);
\draw[e] (f5l) -- (f5m);
\end{pgfonlayer}

\gn{g5a}{1279.7}{905.7}{9.2}{10}
\gn{g5b}{1279.7}{925.3}{9.2}{10.7}
\gn{g5c}{1303.9}{915.3}{16}{9.3}
\gn{g5d}{1327}{915.3}{9.2}{9.3}
\gn{g5e}{1347.5}{891.3}{11.5}{16}
\gn{g5f}{1368.9}{891.3}{10.1}{8.7}
\gn{g5g}{1386.5}{913.3}{16}{10}
\gn{g5h}{1347.2}{915.3}{9.2}{10.7}
\gn{g5i}{1327}{935.8}{9.2}{9.7}
\gn{g5j}{1347.2}{935.8}{9.2}{9.7}
\gn{g5k}{1386.3}{935.8}{9.2}{9.7}
\gn{g5l}{1347.2}{959.8}{9.2}{18.3}
\gn{g5m}{1327}{981.3}{9.2}{9.3}
\begin{pgfonlayer}{bg}
\draw[e] (g5a) -| (1289,910) |- (g5c);
\draw[e] (g5b) -| (1289,920) |- (g5c);
\draw[e] (g5c) -- (g5d);
\draw[e] (g5d) -| (1337.5,925) |- (g5j);
\draw[e] (g5e) -- (g5f);
\draw[e] (g5e.south -| g5h.north) -- (g5h);
\draw[e] (g5h) -- (g5j);
\draw[e] (g5j) -- (g5l);
\draw[e] (g5f) -| (g5g);
\draw[e] (g5g.south -| g5k.north) -- (g5k);
\draw[e] (g5j) -- (g5k);
\draw[e] (g5i) -- (g5j);
\draw[e] (g5i) -- (g5m);
\draw[e] (g5l) |- (g5m);
\end{pgfonlayer}

% ================= ROW 6
\gn{a6a}{104.9}{1092.2}{10.6}{12.3}
\gn{a6b}{130}{1107.3}{21}{6.7}
\gn{a6c}{76.9}{1115}{6.8}{6.6}
\gn{a6d}{108.6}{1121.7}{19.8}{8}
\gn{a6e}{151.5}{1139.5}{7.4}{7.6}
\gn{a6f}{102.2}{1152.5}{6.9}{7}
\gn{a6g}{112}{1171.2}{5.5}{22.3}
\begin{pgfonlayer}{bg}
\draw[e] (a6a) -- (a6a |- a6d.north);
\draw[e] (a6a) |- (a6b);
\draw[e] (a6c) |- (a6d);
\draw[e] (a6d) -| (a6e);
\draw[e] (a6d.south -| a6f.north) -- (a6f);
\draw[e] ([xshift=-3]a6d.south) |- (110,1142.7) -| (a6g);
\end{pgfonlayer}

\gn{b6a}{343.7}{1087}{21.5}{7.3}
\gn{b6b}{305.8}{1106}{10}{13.3}
\gn{b6c}{263.3}{1136.5}{7.8}{7}
\gn{b6d}{309.5}{1136.5}{20.2}{7.7}
\gn{b6e}{362.9}{1136.5}{7.8}{7}
\gn{b6f}{302.8}{1166.3}{6.8}{7.3}
\gn{b6g}{318.6}{1171.2}{5.5}{22.3}
\begin{pgfonlayer}{bg}
\draw[e] (b6b) -| (b6a);
\draw[e] (b6b) -- (b6b |- b6d.north);
\draw[e] (b6c) -- (b6d);
\draw[e] (b6d) -- (b6e);
\draw[e] (b6d.south -| b6f.north) -- (b6f);
\draw[e] ([xshift=-1]b6d.south) |- (312,1156) -| (b6g);
\end{pgfonlayer}

\gn{c6a}{515.4}{1091.7}{11.5}{13.3}
\gn{c6b}{532.6}{1107.8}{21}{7.7}
\gn{c6c}{476.6}{1123.3}{7.4}{7.3}
\gn{c6d}{518.8}{1123.3}{20.2}{8}
\gn{c6e}{560.6}{1123.3}{7.3}{7.3}
\gn{c6f}{512.2}{1150}{6.9}{8}
\gn{c6g}{524.1}{1172.2}{6}{22.3}
\begin{pgfonlayer}{bg}
\draw[e] (c6a) -- (c6a |- c6d.north);
\draw[e] (c6a) |- (c6b);
\draw[e] (c6c) -- (c6d);
\draw[e] (c6d) -- (c6e);
\draw[e] (c6d.south -| c6f.north) -- (c6f);
\draw[e] (c6d.south -| c6g.north) -- (c6g);
\end{pgfonlayer}

\gn{d6a}{720.5}{1089.7}{21}{7.3}
\gn{d6b}{721}{1111.7}{11}{13.3}
\gn{d6c}{720}{1129.7}{20}{7.3}
\gn{d6d}{697}{1168.7}{6}{22.7}
\gn{d6e}{712.5}{1176.3}{6.5}{7.3}
\gn{d6f}{728}{1176.3}{6.5}{7.3}
\gn{d6g}{743.5}{1176.3}{6.5}{7.3}
\begin{pgfonlayer}{bg}
\draw[e] (d6a) -- (d6b);
\draw[e] (d6b) -- (d6c);
\draw[e] ([xshift=-7]d6c.south) |- (700,1145) -| (d6d);
\draw[e] ([xshift=-3]d6c.south) |- (714,1152) -| (d6e);
\draw[e] ([xshift=3]d6c.south) |- (726,1152) -| (d6f);
\draw[e] ([xshift=7]d6c.south) |- (740,1145) -| (d6g);
\end{pgfonlayer}

\gn{e6a}{920.5}{1094.5}{20.7}{24.4}
\gn{e6b}{966.9}{1094.5}{40}{14}
\gn{e6c}{920.3}{1127.2}{36.7}{14.3}
\gn{e6d}{884.2}{1177.3}{12.4}{13.3}
\gn{e6e}{908.3}{1177.3}{12.8}{13.3}
\gn{e6f}{930.1}{1177.3}{12.4}{13.3}
\gn{e6g}{955.6}{1163}{10}{40.6}
\begin{pgfonlayer}{bg}
\draw[e] (e6a) -- (e6b);
\draw[e] (e6a) -- (e6a |- e6c.north);
\draw[e] (e6c) -| (e6d);
\draw[e] (e6c.south -| e6e.north) -- (e6e);
\draw[e] (e6c.south -| e6f.north) -- (e6f);
\draw[e] (e6c) -| (e6g);
\end{pgfonlayer}

\gn{f6a}{1086.9}{1106.3}{9.2}{32.7}
\gn{f6b}{1130.5}{1088.8}{11}{11}
\gn{f6c}{1096.1}{1141.3}{11}{10.7}
\gn{f6d}{1130.5}{1141.3}{30.3}{10.7}
\gn{f6e}{1165.4}{1141.3}{17.4}{18.3}
\gn{f6f}{1130.5}{1167.8}{11}{11}
\gn{f6g}{1165.5}{1176.7}{31}{11.3}
\begin{pgfonlayer}{bg}
\draw[e] (f6a) -| ([xshift=-10]f6d.north);
\draw[e] (f6b) -- (f6d);
\draw[e] (f6c) -- (f6d);
\draw[e] (f6d) -- (f6e);
\draw[e] (f6d) -- (f6f);
\draw[e] (f6e) -- (f6g);
\end{pgfonlayer}

\gn{g6a}{1332.3}{1102.5}{15.2}{17}
\gn{g6b}{1394}{1131.3}{28.5}{10.7}
\gn{g6c}{1305.7}{1131.3}{26}{10.7}
\gn{g6d}{1262.7}{1160}{9.2}{10}
\gn{g6e}{1286.6}{1160}{9.2}{10}
\gn{g6f}{1323.5}{1159.5}{6.9}{29}
\gn{g6g}{1346.3}{1160}{9.2}{10}
\begin{pgfonlayer}{bg}
\draw[e] (g6c) |- (g6a);
\draw[e] (g6a) -| (g6b);
\draw[e] (g6c) -| (g6d);
\draw[e] (g6c) -| (g6e);
\draw[e] (g6c) -| (g6f);
\draw[e] (g6c) -| (g6g);
\end{pgfonlayer}

% ================= ROW 7
\gn{a7a}{40.6}{1291.2}{10.5}{11}
\gn{a7b}{177}{1291.2}{11.4}{11}
\gn{a7c}{101}{1308}{11}{10.6}
\gn{a7d}{141}{1317.2}{11.1}{11}
\gn{a7e}{59}{1335}{10.6}{11.4}
\gn{a7f}{113.4}{1335}{11}{11.4}
\gn{a7g}{128.5}{1352.2}{11}{11}
\gn{a7h}{92}{1356.5}{11.5}{11.6}
\gn{a7i}{150.4}{1357.8}{11.5}{11}
\gn{a7j}{66.6}{1373.8}{11.1}{11}
\gn{a7k}{113}{1370.8}{12}{11.7}
\gn{a7l}{179.1}{1375.8}{11}{11.7}
\begin{pgfonlayer}{bg}
\draw[e] (a7a) -- (a7b);
\draw[e] (a7a) |- (50,1311.7) -| (a7e);
\draw[e] (a7e) -- (a7f);
\draw[e] (a7e) |- (63,1352) -| (a7j);
\draw[e] (a7j) -| (88,1371) -- (a7k);
\draw[e] (a7k) -| (146,1376) -- (a7l);
\draw[e] (a7f) -- (a7f |- a7k.north);
\draw[e] (a7c) -| (121.7,1316.7) -- (a7d);
\draw[e] (a7d) -| (160.7,1300) |- (a7b);
\draw[e] (a7d) |- (149,1333) -| (a7i);
\draw[e] (a7b) -- (a7b |- a7l.north);
\draw[e] (a7g.south) |- (a7i);
\draw[e] (a7h) -- (a7h -| a7g.west);
\end{pgfonlayer}

\gn{b7a}{233}{1297}{8.8}{9.4}
\gn{b7b}{338.2}{1297}{8.7}{9.4}
\gn{b7c}{373}{1297}{8.7}{9.4}
\gn{b7d}{395.8}{1323.3}{8.3}{8.7}
\gn{b7e}{246.8}{1331.3}{8.7}{9.3}
\gn{b7f}{289.5}{1331.3}{8.7}{9.3}
\gn{b7g}{373}{1348.8}{8.7}{9}
\gn{b7h}{399.4}{1348.8}{9.1}{8.4}
\gn{b7i}{252.5}{1360}{9.1}{9}
\gn{b7j}{289.3}{1360}{9.1}{9}
\gn{b7k}{340.9}{1362.8}{8.8}{9}
\gn{b7l}{378.6}{1367.8}{8.7}{9}
\begin{pgfonlayer}{bg}
\draw[e] (b7a) -- (b7b);
\draw[e] (b7b) -- (b7c);
\draw[e] (b7c) -| (b7d);
\draw[e] (b7a) |- (240,1313) -| (b7e);
\draw[e] (b7e) -- (b7f);
\draw[e] (b7f) -- (b7j);
\draw[e] (b7e) |- (250,1350) -| (b7i);
\draw[e] (b7i) -- (b7j);
\draw[e] (b7j) -| (312,1355) |- (b7k);
\draw[e] (b7b) -- (b7b |- b7k.north);
\draw[e] (b7c) -- (b7g);
\draw[e] (b7g) -- (b7h);
\draw[e] (b7g.south) -- (b7g.south |- b7l.north);
\end{pgfonlayer}

\gn{c7a}{499.1}{1284}{6.4}{6.6}
\gn{c7b}{450.2}{1304.3}{6.9}{6.7}
\gn{c7c}{557.4}{1305.7}{6.4}{6.7}
\gn{c7d}{450.2}{1340.7}{6.9}{6.7}
\gn{c7e}{499.1}{1340.7}{6.4}{6.7}
\gn{c7f}{557.4}{1340.7}{6.4}{6.7}
\gn{c7g}{557.4}{1360.7}{6.4}{6.7}
\gn{c7h}{587.2}{1360.7}{6.5}{6.7}
\gn{c7i}{450.2}{1375.7}{6.9}{6.7}
\gn{c7j}{558.7}{1379.3}{6.4}{6.7}
\gn{c7k}{580.1}{1379.3}{6}{6.7}
\gn{c7l}{595.3}{1379.3}{6}{6.7}
\begin{pgfonlayer}{bg}
\draw[e] (c7a) -| (473.8,1295) |- (c7b);
\draw[e] (c7a) -| (528,1295) |- (c7c);
\draw[e] (c7a) -- (c7e);
\draw[e] (c7b) -- (c7d);
\draw[e] (c7d) -- (c7i);
\draw[e] (c7d) -- (c7e);
\draw[e] (c7e) -- (c7f);
\draw[e] (c7e) |- (c7i);
\draw[e] (c7c) -- (c7f);
\draw[e] (c7f) -- (c7g);
\draw[e] (c7g.south) -- (c7g.south |- c7j.north);
\draw[e] ([yshift=2]c7f.west) -| (532.6,1350) |- (c7g);
\draw[e] (c7f) -| (c7h);
\draw[e] (c7h.south) -- ++(0,5) -| (c7k);
\draw[e] (c7h.south) -- ++(0,5) -| (c7l);
\end{pgfonlayer}

\gn{d7a}{641.2}{1331}{10.5}{10}
\gn{d7b}{664.6}{1331}{9.6}{10}
\gn{d7c}{688}{1331}{10.6}{10}
\gn{d7d}{711}{1331}{10.5}{10}
\gn{d7e}{664.6}{1351.7}{9.6}{10}
\gn{d7f}{688}{1351.7}{10.6}{10}
\gn{d7g}{711}{1352}{10.5}{10.7}
\gn{d7h}{732.7}{1331}{10.6}{10}
\gn{d7i}{756.3}{1331}{11}{10}
\gn{d7j}{782.8}{1331}{11.5}{10}
\gn{d7k}{806.4}{1331}{11}{11}
\gn{d7l}{782.8}{1313}{11.5}{10.6}
\begin{pgfonlayer}{bg}
\draw[e] (d7a) -- (d7b);
\draw[e] (d7b) -- (d7c);
\draw[e] (d7c) -- (d7d);
\draw[e] (d7d) -- (d7h);
\draw[e] (d7h) -- (d7i);
\draw[e] (d7i) -- (d7j);
\draw[e] (d7j) -- (d7k);
\draw[e] (d7b) -- (d7e);
\draw[e] (d7c) -- (d7f);
\draw[e] (d7d) -- (d7g);
\draw[e] (d7i) |- (d7l);
\draw[e] (d7l) -| (d7k);
\draw[e] (d7k) |- (d7g);
\end{pgfonlayer}

\gn{e7a}{845.4}{1300.5}{14.8}{14.4}
\gn{e7b}{869.9}{1300.5}{14.2}{14.4}
\gn{e7c}{900.6}{1300.5}{14.8}{14.4}
\gn{e7d}{928.8}{1300.5}{14.2}{14.4}
\gn{e7e}{955.7}{1300.5}{14.7}{14.4}
\gn{e7f}{984.1}{1300.5}{14.6}{14.4}
\gn{e7g}{869.9}{1328.5}{14.2}{15}
\gn{e7h}{900.6}{1328.5}{14.8}{15}
\gn{e7i}{928.8}{1329.2}{14.2}{15}
\gn{e7j}{980.9}{1331.8}{14.7}{15}
\gn{e7k}{1008.2}{1330}{15.1}{14.6}
\gn{e7l}{983.2}{1363.3}{14.7}{14.7}
\begin{pgfonlayer}{bg}
\draw[e] (e7a) -- (e7b);
\draw[e] (e7b) -- (e7c);
\draw[e] (e7c) -- (e7d);
\draw[e] (e7d) -- (e7e);
\draw[e] (e7e) -- (e7f);
\draw[e] (e7b) -- (e7g);
\draw[e] (e7c) -- (e7h);
\draw[e] (e7d) -- (e7i);
\draw[e] (e7f) -| (e7k);
\draw[e] (e7f.south -| e7j.north) -- (e7j);
\draw[e] (e7j.south) -- (e7j.south |- e7l.north);
\draw[e] (e7k) |- (e7l);
\draw[e] (e7i) |- (e7l);
\end{pgfonlayer}

\gn{f7a}{1051.8}{1300.5}{12.4}{12.4}
\gn{f7b}{1114}{1300.5}{12.8}{12.4}
\gn{f7c}{1144.8}{1300.5}{12.9}{12.4}
\gn{f7d}{1176}{1300.5}{12.9}{12.4}
\gn{f7e}{1206.7}{1300.5}{12.8}{12.4}
\gn{f7f}{1051.8}{1331.2}{12.4}{12.3}
\gn{f7g}{1082.8}{1331.2}{12.9}{12.3}
\gn{f7h}{1144.8}{1331.2}{12.9}{12.3}
\gn{f7i}{1176}{1331.2}{12.9}{12.3}
\gn{f7j}{1051.8}{1362.5}{12.4}{13}
\gn{f7k}{1082.8}{1362.5}{12.9}{13}
\gn{f7l}{1114}{1362.5}{12.8}{13}
\begin{pgfonlayer}{bg}
\draw[e] (f7a) -- (f7b);
\draw[e] (f7b) -- (f7c);
\draw[e] (f7c) -- (f7d);
\draw[e] (f7d) -- (f7e);
\draw[e] (f7c) -- (f7h);
\draw[e] (f7d) -- (f7i);
\draw[e] (f7a) -- (f7f);
\draw[e] (f7f) -- (f7j);
\draw[e] (f7f) -- (f7g);
\draw[e] (f7g) -- (f7k);
\draw[e] (f7j) -- (f7k);
\draw[e] (f7k) -- (f7l);
\draw[e] (f7b) -- (f7l);
\end{pgfonlayer}

\gn{g7a}{1264.2}{1288.7}{14.7}{14}
\gn{g7b}{1292.3}{1288.7}{14.3}{14}
\gn{g7c}{1321.3}{1288.7}{14.2}{14}
\gn{g7d}{1264.2}{1317.5}{14.7}{13.6}
\gn{g7e}{1292.3}{1317.5}{14.3}{13.6}
\gn{g7f}{1264.2}{1346.3}{14.7}{14}
\gn{g7g}{1321.3}{1346.3}{14.2}{14}
\gn{g7h}{1349.9}{1346.3}{14.3}{14}
\gn{g7i}{1379}{1332.2}{14.8}{14.3}
\gn{g7j}{1379}{1360.3}{14.8}{14}
\gn{g7k}{1407.9}{1346.3}{14.7}{14}
\gn{g7l}{1407.9}{1375.5}{14.7}{14.4}
\begin{pgfonlayer}{bg}
\draw[e] (g7a) -- (g7b);
\draw[e] (g7b) -- (g7c);
\draw[e] (g7a) -- (g7d);
\draw[e] (g7d) -- (g7f);
\draw[e] (g7d) -- (g7e);
\draw[e] (g7b) -- (g7e);
\draw[e] (g7f) -- (g7g);
\draw[e] (g7g) -- (g7h);
\draw[e] (g7c) -- (g7g);
\draw[e] (g7h.east) -- ++(4,0) |- (g7i);
\draw[e] (g7h.east) -- ++(4,0) |- (g7j);
\draw[e] (g7j.east) -- ++(4,0) |- (g7k);
\draw[e] (g7j.east) -- ++(4,0) |- (g7l);
\end{pgfonlayer}

% ================= ROW 8
\gn{a8a}{73.9}{1485.3}{8.2}{7.3}
\gn{a8b}{85.6}{1499}{7.8}{7.6}
\gn{a8c}{114.4}{1499}{8.3}{8.3}
\gn{a8d}{160}{1515.8}{7.8}{8.3}
\gn{a8e}{160}{1534.8}{7.8}{8.3}
\gn{a8f}{82.6}{1539.2}{7.3}{8.3}
\gn{a8g}{111.3}{1548.8}{8.7}{7.7}
\gn{a8h}{90.5}{1561.5}{8.3}{8.4}
\gn{a8i}{71.6}{1571.5}{8.3}{8.4}
\gn{a8j}{130.4}{1577.5}{8.2}{8.4}
\begin{pgfonlayer}{bg}
\draw[e] (a8a) -| (a8b);
\draw[e] (a8b) -- (a8c);
\draw[e] (a8b) |- (100,1507.7) -| (a8g);
\draw[e] (a8g) -| (134.5,1530) |- ([yshift=2]a8d.west);
\draw[e] (a8d) -- (a8e);
\draw[e] (a8i) |- ([yshift=-2]a8d.west);
\draw[e] (a8f) |- (a8g);
\draw[e] (a8g) |- (a8h);
\draw[e] (a8i) -| (115,1577.5) -- (a8j);
\draw[e] (a8j) -| (146,1550) |- (a8e);
\end{pgfonlayer}

\gn{b8a}{262}{1498.3}{6.9}{6.7}
\gn{b8b}{271.1}{1510}{6.9}{6.6}
\gn{b8c}{295}{1510}{6.9}{7.7}
\gn{b8d}{369.8}{1484}{6.9}{6.6}
\gn{b8e}{281.2}{1532.7}{6.9}{6.7}
\gn{b8f}{288.1}{1543.3}{6.8}{6.7}
\gn{b8g}{280.1}{1561.7}{6.4}{6.7}
\gn{b8h}{332.4}{1523.3}{7.4}{6.7}
\gn{b8i}{332.4}{1538.7}{7.4}{7.3}
\gn{b8j}{315.7}{1576.7}{6.9}{6.7}
\begin{pgfonlayer}{bg}
\draw[e] (b8a) -| (b8b);
\draw[e] (b8b) -- (b8c);
\draw[e] (b8b) |- (278,1520) -| (b8e);
\draw[e] (b8e) -- (b8e |- b8g.north);
\draw[e] (b8e) |- (b8f);
\draw[e] (b8c) |- (b8d);
\draw[e] (b8c) |- (b8j);
\draw[e] (b8e) -| (307.6,1530) |- (b8h);
\draw[e] (b8h) -| (b8d);
\draw[e] (b8h) -- (b8i);
\draw[e] (b8i) |- (320,1552) -| (b8j);
\end{pgfonlayer}

\gn{c8a}{472}{1485.7}{7.4}{6.7}
\gn{c8b}{494.3}{1498.7}{7.8}{7.3}
\gn{c8c}{521.8}{1503}{7.8}{7.4}
\gn{c8d}{564.7}{1517.8}{7.4}{7.7}
\gn{c8e}{564.7}{1536.2}{7.4}{7.7}
\gn{c8f}{495.9}{1539.7}{7.3}{7.3}
\gn{c8g}{521.1}{1548.7}{7.4}{7.3}
\gn{c8h}{503.2}{1559.7}{7.4}{7.3}
\gn{c8i}{484.4}{1573.7}{7.3}{7.3}
\gn{c8j}{538.5}{1573.7}{7.3}{7.3}
\begin{pgfonlayer}{bg}
\draw[e] (c8a) -| (480,1495) |- (c8b);
\draw[e] (c8b) -| (507.3,1500) |- (c8c);
\draw[e] (c8b) |- (510,1511.7) -| (c8g);
\draw[e] (c8i) |- ([yshift=-2]c8d.west);
\draw[e] (c8d) -- (c8e);
\draw[e] (c8f) |- (c8g);
\draw[e] (c8g) |- (c8h);
\draw[e] (c8g) -| (541.8,1530) |- ([yshift=2]c8d.west);
\draw[e] (c8i) -- (c8j);
\draw[e] (c8j) -| (c8e);
\end{pgfonlayer}

\gn{d8a}{676}{1494.5}{11.5}{12.7}
\gn{d8b}{704.8}{1494.5}{11.9}{11.7}
\gn{d8c}{676}{1530.3}{11.5}{12.7}
\gn{d8d}{704.8}{1530.3}{11.9}{12.7}
\gn{d8e}{704.8}{1565.7}{11.9}{12.7}
\gn{d8f}{734.1}{1494.5}{12.4}{11}
\gn{d8g}{734.1}{1530.3}{12.4}{11.7}
\gn{d8h}{770.1}{1530.3}{12}{11.7}
\gn{d8i}{734.1}{1563.5}{12.4}{11.6}
\gn{d8j}{770.1}{1563.5}{12}{11.6}
\begin{pgfonlayer}{bg}
\draw[e] (d8a) -- (d8b);
\draw[e] (d8b) -- (d8f);
\draw[e] (d8c) -- (d8d);
\draw[e] (d8d) -- (d8g);
\draw[e] (d8g) -- (d8h);
\draw[e] (d8b) -- (d8d);
\draw[e] (d8d) -- (d8e);
\draw[e] (d8g) -- (d8i);
\draw[e] (d8h) -- (d8j);
\draw[e] (d8i) -- (d8j);
\end{pgfonlayer}

\gn{e8a}{894.1}{1487.2}{15.6}{15.7}
\gn{e8b}{860.7}{1515}{16.1}{15.4}
\gn{e8c}{894.1}{1515}{15.6}{15.4}
\gn{e8d}{863}{1542.8}{16.1}{15.7}
\gn{e8e}{894.1}{1542.8}{15.6}{15.7}
\gn{e8f}{926.2}{1542.8}{15.6}{15.7}
\gn{e8g}{958.6}{1542.8}{16.1}{15.7}
\gn{e8h}{987.7}{1542.8}{15.5}{15.7}
\gn{e8i}{894.1}{1574.5}{15.6}{15.6}
\gn{e8j}{958.6}{1568.2}{16.1}{15}
\begin{pgfonlayer}{bg}
\draw[e] (e8a) -- (e8c);
\draw[e] (e8c) -- (e8e);
\draw[e] (e8e) -- (e8i);
\draw[e] (e8b) -- (e8c);
\draw[e] (e8d) -- (e8e);
\draw[e] (e8e) -- (e8f);
\draw[e] (e8f) -- (e8g);
\draw[e] (e8g) -- (e8h);
\draw[e] (e8f) |- (e8j);
\draw[e] (e8h) |- (e8j);
\end{pgfonlayer}

\gn{f8a}{1115.2}{1486.7}{10.5}{11.3}
\gn{f8b}{1115.2}{1515.8}{10.5}{11.6}
\gn{f8c}{1143.6}{1515.8}{10.6}{11.6}
\gn{f8d}{1086.7}{1544.2}{11.4}{11.7}
\gn{f8e}{1115.2}{1544.2}{10.5}{11.7}
\gn{f8f}{1143.6}{1544.2}{10.6}{11.7}
\gn{f8g}{1172.5}{1544.2}{10.6}{11.7}
\gn{f8h}{1115.2}{1573.2}{10.5}{11.7}
\gn{f8i}{1143.6}{1573.2}{10.6}{11.7}
\gn{f8j}{1172.5}{1573.2}{10.6}{11.7}
\begin{pgfonlayer}{bg}
\draw[e] (f8a) -- (f8b);
\draw[e] (f8b) -- (f8e);
\draw[e] (f8e) -- (f8h);
\draw[e] (f8b) -- (f8c);
\draw[e] (f8d) -- (f8e);
\draw[e] (f8e) -- (f8f);
\draw[e] (f8f) -- (f8g);
\draw[e] (f8f) -- (f8i);
\draw[e] (f8g) -- (f8j);
\draw[e] (f8i) -- (f8j);
\end{pgfonlayer}

\gn{g8a}{1280.5}{1501}{17}{16.6}
\gn{g8b}{1252.9}{1529.3}{17}{16.7}
\gn{g8c}{1308.9}{1529.3}{17}{16.7}
\gn{g8d}{1280.5}{1557.3}{17}{16.7}
\gn{g8e}{1343.3}{1529.3}{17}{16.7}
\gn{g8f}{1377.8}{1495}{17}{16.6}
\gn{g8g}{1377.8}{1529.3}{17}{16.7}
\gn{g8h}{1377.8}{1564}{17}{16.6}
\gn{g8i}{1412.1}{1511.7}{17}{16.7}
\gn{g8j}{1412.1}{1546.7}{17}{16.7}
\begin{pgfonlayer}{bg}
\draw[e] (g8a) -| (g8b);
\draw[e] (g8b) |- (g8d);
\draw[e] (g8a) -| (g8c);
\draw[e] (g8c) |- (g8d);
\draw[e] (g8c) -- (g8e);
\draw[e] (g8e) -- (g8g);
\draw[e] (g8e.east) -- ++(6,0) |- (g8f);
\draw[e] (g8e.east) -- ++(6,0) |- (g8h);
\draw[e] (g8g.east) -- ++(6,0) |- (g8i);
\draw[e] (g8g.east) -- ++(6,0) |- (g8j);
\end{pgfonlayer}

% ================= SCORES
% row 1
\node[sc,anchor=base west] (s1a) at (10,221.5) {\mA{0.00}};
\node[sc,anchor=base] (s1b) at (304,221.5) {\mA{0.00}};
\node[sc,anchor=base] (s1c) at (504.6,221.5) {\mA{0.00}};
\node[sc,anchor=base] (s1d) at (703,221.5) {\mA{0.51}};
\node[bx,minimum width=77pt,anchor=east] (s1e) at (910.6,218) {\mA{0.53}};
\node[sc,anchor=base] (s1k) at (914.5,221.5) {,};
\node[bx,minimum width=73.5pt,anchor=west] (s1f) at (918.4,218) {\mB{0.61}};
\node[sc,anchor=base east] (s1g) at (1133,221.5) {\mA{0.51},};
\node[sc,anchor=base west] (s1i) at (1137,221.5) {\mB{0.41}};
\node[sc,anchor=base] (s1h) at (1323.5,221.5) {\mB{0.48}};
% row 2
\node[sc,anchor=base west] (s2a) at (10,419.9) {\mA{0.02}};
\node[sc,anchor=base] (s2b) at (304,419.9) {\mA{0.02}};
\node[sc,anchor=base] (s2c) at (504.6,419.9) {\mA{0.09}};
\node[sc,anchor=base] (s2d) at (703,419.9) {\mA{0.57}};
\node[bx,minimum width=77pt,anchor=east] (s2e) at (910.6,416.4) {\mA{0.58}};
\node[sc,anchor=base] (s2k) at (914.5,419.9) {,};
\node[bx,minimum width=73.5pt,anchor=west] (s2f) at (918.4,416.4) {\mB{0.81}};
\node[sc,anchor=base east] (s2g) at (1133,419.9) {\mA{0.25},};
\node[sc,anchor=base west] (s2i) at (1137,419.9) {\mB{0.21}};
\node[sc,anchor=base] (s2h) at (1323.5,419.9) {\mB{0.49}};
% row 3
\node[sc,anchor=base west] (s3a) at (10,618.3) {\mA{0.00}};
\node[sc,anchor=base] (s3b) at (304,618.3) {\mA{0.00}};
\node[sc,anchor=base] (s3c) at (504.6,618.3) {\mA{0.00}};
\node[sc,anchor=base] (s3d) at (703,618.3) {\mA{0.59}};
\node[bx,minimum width=77pt,anchor=east] (s3e) at (910.6,614.8) {\mA{0.69}};
\node[sc,anchor=base west] (s3f) at (912,618.3) {,\,\mB{0.52}};
\node[sc,anchor=base east] (s3g) at (1133,618.3) {\mA{0.33},};
\node[sc,anchor=base west] (s3i) at (1137,618.3) {\mB{0.10}};
\node[bx,minimum width=73pt] (s3h) at (1314.8,614.8) {\mB{0.88}};
% row 4
\node[sc,anchor=base west] (s4a) at (10,816.7) {\mA{0.00}};
\node[sc,anchor=base] (s4b) at (304,816.7) {\mA{0.00}};
\node[sc,anchor=base] (s4c) at (504.6,816.7) {\mA{0.00}};
\node[sc,anchor=base] (s4d) at (703,816.7) {\mA{0.58}};
\node[bx,minimum width=77pt,anchor=east] (s4e) at (910.6,813.2) {\mA{0.59}};
\node[sc,anchor=base west] (s4f) at (912,816.7) {,\,\mB{0.59}};
\node[sc,anchor=base east] (s4g) at (1133,816.7) {\mA{0.21},};
\node[sc,anchor=base west] (s4i) at (1137,816.7) {\mB{0.11}};
\node[bx,minimum width=73pt] (s4h) at (1314.8,813.2) {\mB{0.80}};
% row 5
\node[sc,anchor=base west] (s5a) at (10,1015.1) {\mA{0.00}};
\node[sc,anchor=base] (s5b) at (304,1015.1) {\mA{0.00}};
\node[sc,anchor=base] (s5c) at (504.6,1015.1) {\mA{0.07}};
\node[sc,anchor=base] (s5d) at (703,1015.1) {\mA{0.60}};
\node[bx,minimum width=77pt,anchor=east] (s5e) at (910.6,1011.6) {\mA{0.63}};
\node[sc,anchor=base] (s5k) at (914.5,1015.1) {,};
\node[bx,minimum width=73.5pt,anchor=west] (s5f) at (918.4,1011.6) {\mB{0.70}};
\node[bx,minimum width=76.3pt,anchor=east] (s5g) at (1148,1011.6) {\mA{0.63}};
\node[sc,anchor=base] (s5j) at (1151.5,1015.1) {,};
\node[sc,anchor=base west] (s5i) at (1155,1015.1) {\mB{0.38}};
\node[sc,anchor=base] (s5h) at (1323.5,1015.1) {\mB{0.42}};
% row 6
\node[sc,anchor=base west] (s6a) at (10,1213.5) {\mA{0.02}};
\node[sc,anchor=base] (s6b) at (304,1213.5) {\mA{0.05}};
\node[sc,anchor=base] (s6c) at (504.6,1213.5) {\mA{0.02}};
\node[sc,anchor=base] (s6d) at (703,1213.5) {\mA{0.55}};
\node[bx,minimum width=77pt,anchor=east] (s6e) at (910.6,1210) {\mA{0.66}};
\node[sc,anchor=base] (s6k) at (914.5,1213.5) {,};
\node[bx,minimum width=73.5pt,anchor=west] (s6f) at (918.4,1210) {\mB{0.83}};
\node[sc,anchor=base east] (s6g) at (1133,1213.5) {\mA{0.15},};
\node[sc,anchor=base west] (s6i) at (1137,1213.5) {\mB{0.14}};
\node[sc,anchor=base] (s6h) at (1323.5,1213.5) {\mB{0.53}};
% row 7
\node[sc,anchor=base west] (s7a) at (10,1411.9) {\mA{0.00}};
\node[sc,anchor=base] (s7b) at (304,1411.9) {\mA{0.00}};
\node[sc,anchor=base] (s7c) at (504.6,1411.9) {\mA{0.03}};
\node[sc,anchor=base] (s7d) at (703,1411.9) {\mA{0.63}};
\node[bx,minimum width=77pt,anchor=east] (s7e) at (910.6,1408.4) {\mA{0.64}};
\node[sc,anchor=base west] (s7f) at (912,1411.9) {,\,\mB{0.52}};
\node[sc,anchor=base east] (s7g) at (1133,1411.9) {\mA{0.63},};
\node[sc,anchor=base west] (s7i) at (1137,1411.9) {\mB{0.42}};
\node[bx,minimum width=73pt] (s7h) at (1314.8,1408.4) {\mB{0.56}};
% row 8
\node[sc,anchor=base west] (s8a) at (10,1610.3) {\mA{0.00}};
\node[sc,anchor=base] (s8b) at (304,1610.3) {\mA{0.00}};
\node[sc,anchor=base] (s8c) at (504.6,1610.3) {\mA{0.02}};
\node[sc,anchor=base] (s8d) at (703,1610.3) {\mA{0.61}};
\node[bx,minimum width=77pt,anchor=east] (s8e) at (910.6,1606.8) {\mA{0.68}};
\node[sc,anchor=base west] (s8f) at (912,1610.3) {,\,\mB{0.45}};
\node[sc,anchor=base east] (s8g) at (1133,1610.3) {\mA{0.61},};
\node[sc,anchor=base west] (s8i) at (1137,1610.3) {\mB{0.42}};
\node[bx,minimum width=73pt] (s8h) at (1314.8,1606.8) {\mB{0.64}};
\end{tikzpicture}
\end{document}
